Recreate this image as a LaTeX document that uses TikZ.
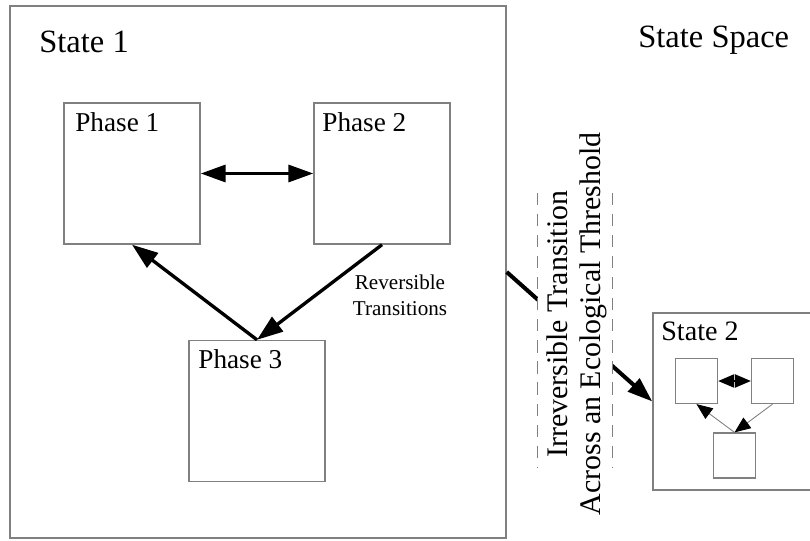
\documentclass[tikz,border=0pt]{standalone}
\usepackage{fontspec}
\setmainfont{Liberation Serif}
\usetikzlibrary{arrows.meta}
\definecolor{BoxColor}{gray}{0.5}
\tikzstyle{state_box}=[rectangle,
                       draw=BoxColor,
                       line width=0.8pt, ]
\tikzstyle{phase_box}=[rectangle,
                       minimum height=2.82cm,
                       minimum width=2.72cm,
                       draw=BoxColor,
                       line width=0.8pt, ]
\tikzstyle{small_box}=[rectangle,
                       minimum height=0.9cm,
                       minimum width=0.84cm,
                       draw=BoxColor,
                       line width=0.7pt, ]
\tikzstyle{big_arrow}=[line width=1.9pt,
                       -{Triangle[length=0.52cm, width=0.36cm]}, ]
\tikzstyle{small_arrow}=[draw=BoxColor, line width=0.5pt,
                         -{Triangle[length=0.32cm, width=0.26cm, color=black]}, ]
\tikzstyle{big_label}=[anchor=base west, inner sep=0pt,
                       font=\fontsize{18.5}{22}\selectfont, ]
\tikzstyle{phase_label}=[anchor=base west, inner sep=0pt,
                         font=\fontsize{15.5}{18}\selectfont, ]

\begin{document}
\begin{tikzpicture}
    \useasboundingbox (0cm, 0cm) rectangle (16.2cm, -10.8cm);

    % state 1 with its phases
    \node at (5.16cm, -5.44cm) (state_1) [state_box, minimum width=9.92cm, minimum height=10.64cm] {};
    \node at (0.78cm, -1.06cm) (state_1_name) [big_label] {State 1};
    \node at (12.76cm, -0.96cm) (space_name) [big_label] {State Space};

    \foreach \i/\x/\y/\lx/\ly in {1/2.64/-3.47/1.50/-2.64,
                                  2/7.64/-3.47/6.44/-2.64,
                                  3/5.14/-8.22/3.96/-7.36} {
      \node at (\x cm, \y cm) (phase_\i) [phase_box] {};
      \node at (\lx cm, \ly cm) (phase_name_\i) [phase_label] {Phase \i};
    }

    \draw[line width=1.9pt, {Triangle[length=0.5cm, width=0.34cm]}-{Triangle[length=0.5cm, width=0.34cm]}]
      (phase_1.east) -- (phase_2.west);
    \draw[big_arrow] (phase_3.north) -- (phase_1.south);
    \draw[big_arrow] (phase_2.south) -- (phase_3.north);
    \node at (8.0cm, -5.9cm) (reversible) [align=center, inner sep=0pt,
                                           font=\fontsize{12}{14.8}\selectfont] {Reversible\\Transitions};

    % state 2
    \node at (14.68cm, -8.03cm) (state_2) [state_box, minimum width=3.24cm, minimum height=3.54cm] {};
    \node at (13.22cm, -6.8cm) (state_2_name) [anchor=base west, inner sep=0pt,
                                               font=\fontsize{16}{19}\selectfont] {State 2};
    \node at (13.93cm, -7.62cm) (small_1) [small_box] {};
    \node at (15.45cm, -7.62cm) (small_2) [small_box] {};
    \node at (14.69cm, -9.11cm) (small_3) [small_box] {};
    \draw[line width=1.2pt, {Triangle[length=0.32cm, width=0.26cm]}-{Triangle[length=0.32cm, width=0.26cm]}]
      (small_1.east) -- (small_2.west);
    \draw[small_arrow] (small_3.north) -- (small_1.south);
    \draw[small_arrow] (small_2.south) -- (small_3.north);

    % threshold crossing
    \draw[line width=2.3pt, -{Triangle[length=0.5cm, width=0.34cm]}] (state_1.east) -- (state_2.west);
    \node at (11.5cm, -6.6cm) (threshold_gap) [rectangle, fill=white,
                                               minimum width=1.48cm, minimum height=5.48cm] {};
    \draw[BoxColor, line width=0.6pt, dash pattern=on 7pt off 5pt]
      (threshold_gap.north west) -- (threshold_gap.south west);
    \draw[BoxColor, line width=0.6pt, dash pattern=on 7pt off 5pt]
      (threshold_gap.north east) -- (threshold_gap.south east);
    \node at (11.54cm, -6.48cm) (threshold) [rotate=90, align=center, inner sep=0pt,
                                             font=\fontsize{17}{18.8}\selectfont]
      {Irreversible Transition\\Across an Ecological Threshold};
\end{tikzpicture}
\end{document}
